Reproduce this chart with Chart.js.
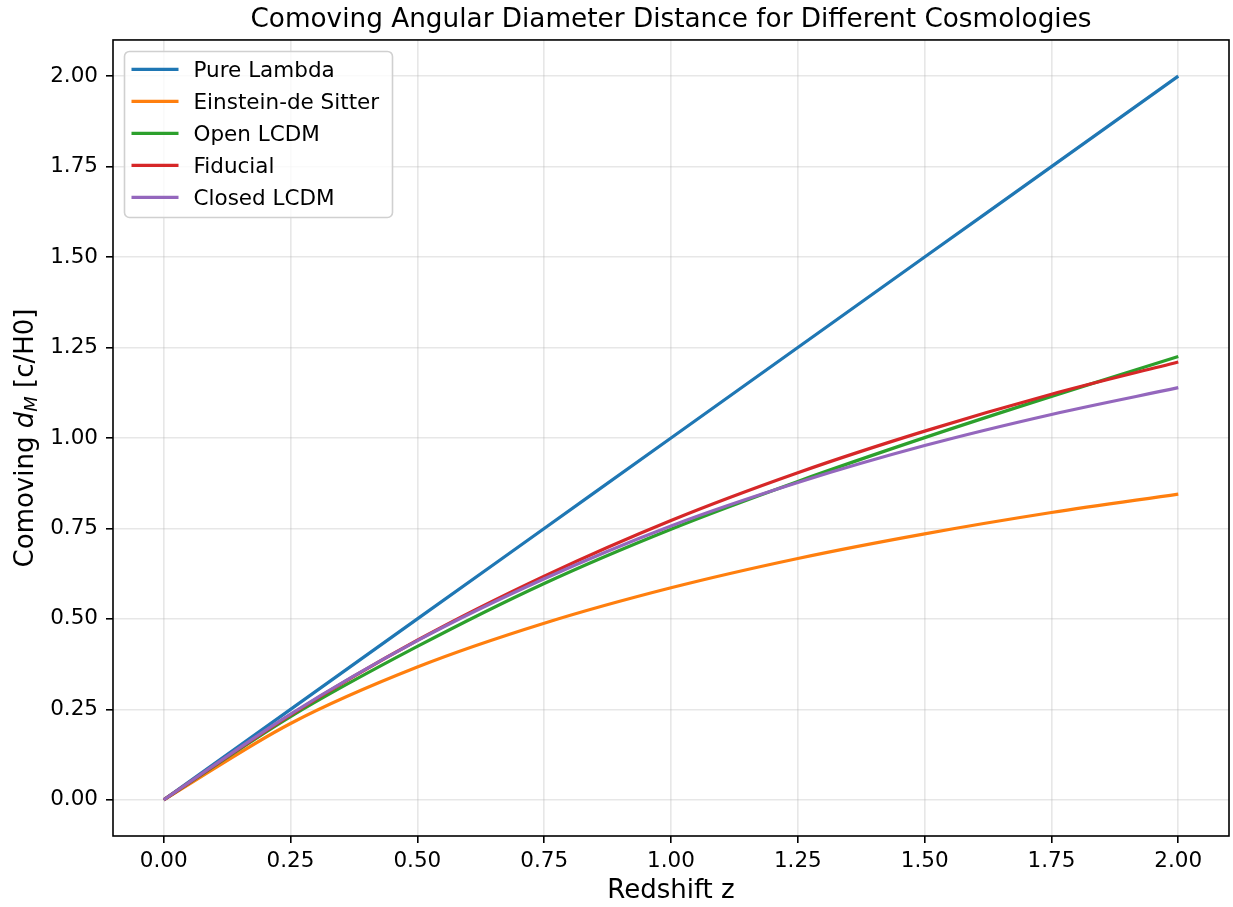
<!DOCTYPE html>
<html lang="en">
  <head>
    <meta charset="UTF-8" />
    <meta name="viewport" content="width=device-width, initial-scale=1.0" />
    <title>Comoving Angular Diameter Distance</title>
    <style>
      * {
        border: none;
        padding: 0px;
        margin: 0px;
        box-sizing: border-box;
      }

      body {
        background: #fff;
      }

      #grafico {
        width: 1233px;
        height: 907px;
      }
    </style>
  </head>
  <body>
    <div id="grafico">
      <canvas id="grafico1"></canvas>
    </div>

    <script src="https://cdn.jsdelivr.net/npm/chart.js"></script>
    <script>
      // redshift grid (every 0.25)
      const redshift = [0, 0.25, 0.5, 0.75, 1.0, 1.25, 1.5, 1.75, 2.0]

      const pureLambda = [0, 0.25, 0.5, 0.75, 1.0, 1.25, 1.5, 1.75, 2.0]
      const einsteinDeSitter = [0, 0.211, 0.367, 0.488, 0.586, 0.667, 0.735, 0.794, 0.845]
      const openLCDM = [0, 0.230, 0.424, 0.598, 0.748, 0.880, 1.001, 1.115, 1.225]
      const fiducial = [0, 0.235, 0.441, 0.618, 0.772, 0.904, 1.019, 1.121, 1.210]
      const closedLCDM = [0, 0.237, 0.440, 0.611, 0.757, 0.877, 0.979, 1.065, 1.139]

      const xTicks = [0, 0.25, 0.5, 0.75, 1.0, 1.25, 1.5, 1.75, 2.0]
      const yTicks = [0, 0.25, 0.5, 0.75, 1.0, 1.25, 1.5, 1.75, 2.0]

      const FONTE = "'DejaVu Sans', sans-serif"
      Chart.defaults.font.family = FONTE
      Chart.defaults.color = '#000'

      // matplotlib draws the last line on top, chart.js the first one
      const serie = (label, valores, cor, ordem) => ({
        label: label,
        data: redshift.map((z, i) => ({ x: z, y: valores[i] })),
        borderColor: cor,
        backgroundColor: cor,
        borderWidth: 3.2,
        pointRadius: 0,
        fill: false,
        cubicInterpolationMode: 'monotone',
        order: ordem
      })

      const series = [
        serie('Pure Lambda', pureLambda, '#1f77b4', 4),
        serie('Einstein-de Sitter', einsteinDeSitter, '#ff7f0e', 3),
        serie('Open LCDM', openLCDM, '#2ca02c', 2),
        serie('Fiducial', fiducial, '#d62728', 1),
        serie('Closed LCDM', closedLCDM, '#9467bd', 0)
      ]

      // frame, legend box and the y label with d_M
      const extras = {
        id: 'extras',
        afterDatasetsDraw(chart) {
          const { ctx, chartArea: a } = chart
          ctx.save()
          ctx.strokeStyle = '#000'
          ctx.lineWidth = 1.6
          ctx.strokeRect(a.left, a.top, a.right - a.left, a.bottom - a.top)

          // legend
          const lx = a.left + 11.5, ly = a.top + 11.5, lw = 268, lh = 166
          ctx.beginPath()
          ctx.roundRect(lx, ly, lw, lh, 5)
          ctx.fillStyle = 'rgba(255,255,255,0.8)'
          ctx.fill()
          ctx.strokeStyle = '#d0d0d0'
          ctx.lineWidth = 1.6
          ctx.stroke()

          ctx.font = '21.5px ' + FONTE
          ctx.textBaseline = 'alphabetic'
          ctx.textAlign = 'left'
          chart.data.datasets.forEach((ds, i) => {
            const y = ly + 18 + 32 * i
            ctx.strokeStyle = ds.borderColor
            ctx.lineWidth = 3.2
            ctx.beginPath()
            ctx.moveTo(lx + 7, y)
            ctx.lineTo(lx + 54, y)
            ctx.stroke()
            ctx.fillStyle = '#000'
            ctx.fillText(ds.label, lx + 69, y + 7.5)
          })
          ctx.restore()
        },
        afterDraw(chart) {
          const { ctx, chartArea: a } = chart
          const partes = [
            { t: 'Comoving ', f: '26px ' + FONTE, dy: 0 },
            { t: 'd', f: 'italic 26px ' + FONTE, dy: 0 },
            { t: 'M', f: 'italic 18px ' + FONTE, dy: 4 },
            { t: ' [c/H0]', f: '26px ' + FONTE, dy: 0 }
          ]
          ctx.save()
          let total = 0
          partes.forEach(p => {
            ctx.font = p.f
            p.w = ctx.measureText(p.t).width
            total += p.w
          })
          ctx.translate(33, (a.top + a.bottom) / 2)
          ctx.rotate(-Math.PI / 2)
          ctx.fillStyle = '#000'
          ctx.textBaseline = 'alphabetic'
          ctx.textAlign = 'left'
          let x = -total / 2
          partes.forEach(p => {
            ctx.font = p.f
            ctx.fillText(p.t, x, p.dy)
            x += p.w
          })
          ctx.restore()
        }
      }

      const grade = {
        color: 'rgba(176,176,176,0.3)',
        lineWidth: 1.6,
        drawTicks: true,
        tickLength: 7,
        tickColor: '#000',
        tickWidth: 1.6
      }

      const ctx = document.getElementById('grafico1')

      let grafico1 = new Chart(ctx, {
        type: 'line',
        data: { datasets: series },
        options: {
          responsive: true,
          maintainAspectRatio: false,
          animation: false,
          layout: { padding: { left: 0, right: 4, top: 0, bottom: 0 } },
          plugins: {
            legend: { display: false },
            tooltip: { enabled: false },
            title: {
              display: true,
              fullSize: false,
              text: 'Comoving Angular Diameter Distance for Different Cosmologies',
              color: '#000',
              font: { size: 26.3, weight: 'normal', lineHeight: 1.2 },
              padding: { top: 4, bottom: 4.4 }
            }
          },
          scales: {
            x: {
              type: 'linear',
              min: -0.1,
              max: 2.1,
              grid: grade,
              border: { display: false },
              afterBuildTicks: axis => { axis.ticks = xTicks.map(v => ({ value: v })) },
              afterFit: axis => { axis.height = 71 },
              ticks: {
                autoSkip: false,
                maxRotation: 0,
                padding: 6,
                font: { size: 21.5 },
                callback: v => v.toFixed(2)
              },
              title: {
                display: true,
                text: 'Redshift z',
                font: { size: 26 },
                padding: { top: 0, bottom: 0 }
              }
            },
            y: {
              type: 'linear',
              min: -0.1,
              max: 2.1,
              grid: grade,
              border: { display: false },
              afterBuildTicks: axis => { axis.ticks = yTicks.map(v => ({ value: v })) },
              afterFit: axis => { axis.width = 113 },
              ticks: {
                autoSkip: false,
                padding: 8,
                font: { size: 21.5 },
                callback: v => v.toFixed(2)
              }
            }
          }
        },
        plugins: [extras]
      })
    </script>
  </body>
</html>
